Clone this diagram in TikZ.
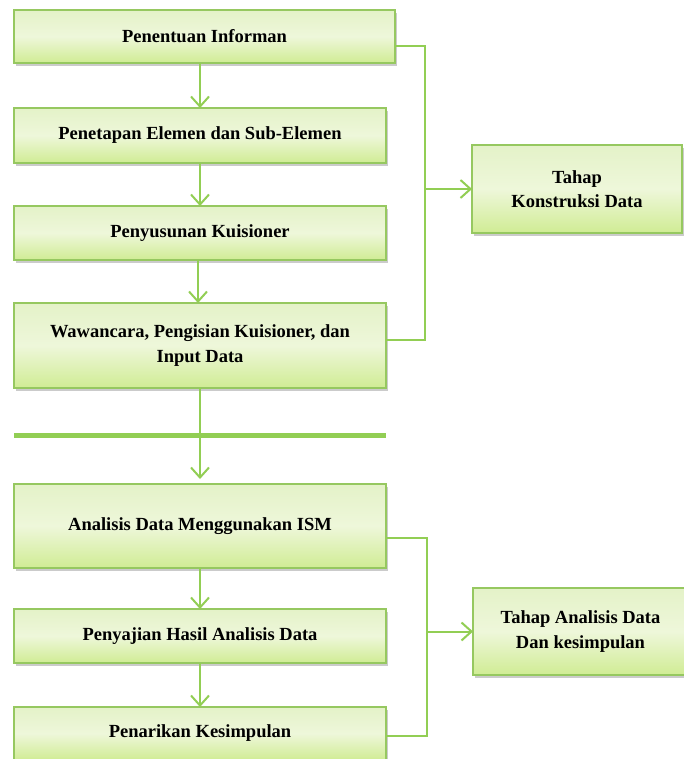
\documentclass[tikz,border=0pt]{standalone}
\usepackage{fontspec}
\setmainfont{Liberation Serif}
\usetikzlibrary{arrows.meta,shadows}
\definecolor{leafGreen}{RGB}{146,206,84}
\definecolor{boxEdge}{RGB}{150,200,96}
\definecolor{boxTop}{RGB}{228,242,200}
\definecolor{boxMid}{RGB}{238,247,218}
\definecolor{boxBottom}{RGB}{208,236,148}
\tikzset{
  stepbox/.style={draw=boxEdge,line width=1.2pt,top color=boxTop,bottom color=boxBottom,middle color=boxMid,
    anchor=north west,inner sep=4pt,outer sep=0pt,align=center,
    font=\fontsize{18.5}{24.5}\selectfont\bfseries,
    drop shadow={shadow xshift=2pt,shadow yshift=-3pt,fill=black!45,opacity=0.45}},
  flow/.style={draw=leafGreen,line width=2pt,-{Straight Barb[length=10pt,width=18pt,line width=2pt]}},
  bracket/.style={draw=leafGreen,line width=2pt},
}

\begin{document}
\begin{tikzpicture}[x=1pt,y=-1pt]
\useasboundingbox (0,0) rectangle (684,759);
\fill[white] (0,0) rectangle (684,759);
\node[stepbox,minimum width=381pt,minimum height=53pt] (informan) at (14,10) {Penentuan Informan};
\node[stepbox,minimum width=372pt,minimum height=55pt] (elemen) at (14,108) {Penetapan Elemen dan Sub-Elemen};
\node[stepbox,minimum width=372pt,minimum height=54pt] (kuisioner) at (14,206) {Penyusunan Kuisioner};
\node[stepbox,minimum width=372pt,minimum height=85pt] (wawancara) at (14,303) {Wawancara, Pengisian Kuisioner, dan\\Input Data};
\node[stepbox,minimum width=372pt,minimum height=84pt] (analisis) at (14,484) {Analisis Data Menggunakan ISM};
\node[stepbox,minimum width=372pt,minimum height=54pt] (penyajian) at (14,609) {Penyajian Hasil Analisis Data};
\node[stepbox,minimum width=372pt,minimum height=53pt] (penarikan) at (14,707) {Penarikan Kesimpulan};
\node[stepbox,minimum width=210pt,minimum height=88pt] (konstruksi) at (472,145) {Tahap\\Konstruksi Data};
\node[stepbox,minimum width=215pt,minimum height=87pt] (tahapAnalisis) at (473,588) {Tahap Analisis Data\\Dan kesimpulan};
\draw[line width=5pt,draw=leafGreen] (14,435) -- (386,435);
\draw[flow] (elemen.north |- informan.south) -- (elemen.north);
\draw[flow] (elemen.south) -- (kuisioner.north);
\draw[flow] ([xshift=-2pt]kuisioner.south) -- ([xshift=-2pt]wawancara.north);
\draw[flow] (wawancara.south) -- ([yshift=5pt]analisis.north);
\draw[flow] (analisis.south) -- (penyajian.north);
\draw[flow] (penyajian.south) -- (penarikan.north);
\coordinate (informanOut) at ([yshift=-9.5pt]informan.east);
\coordinate (wawancaraOut) at ([yshift=5.5pt]wawancara.east);
\coordinate (analisisOut) at ([yshift=-12pt]analisis.east);
\coordinate (penarikanOut) at ([yshift=-2.5pt]penarikan.east);
\coordinate (bracketTop) at (425,0);
\coordinate (bracketLow) at (427,0);
\draw[bracket] (informanOut) -| (bracketTop |- wawancaraOut) -- (wawancaraOut);
\draw[flow] (bracketTop |- konstruksi.west) -- (konstruksi.west);
\draw[bracket] (analisisOut) -| (bracketLow |- penarikanOut) -- (penarikanOut);
\draw[flow] (bracketLow |- tahapAnalisis.west) -- (tahapAnalisis.west);
\end{tikzpicture}
\end{document}
